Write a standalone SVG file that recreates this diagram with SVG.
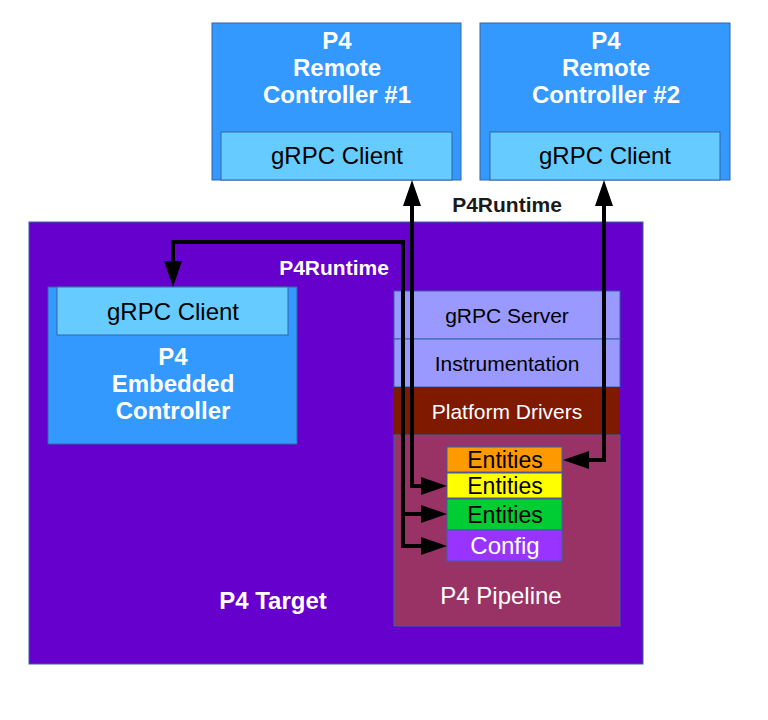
<svg xmlns="http://www.w3.org/2000/svg" width="768" height="720" viewBox="0 0 768 720">
<style>
.b{stroke:#3465a4;stroke-width:1}
.t{font-family:"Liberation Sans",Arial,sans-serif;text-anchor:middle}
.h{font-weight:bold;font-size:24px;fill:#fff}
.c{font-size:24px;fill:#000}
.e{font-size:23px;fill:#000}
.s{font-size:21px}
.ln{fill:none;stroke:#000;stroke-width:4;stroke-linejoin:miter}
</style>
<defs>
<marker id="ah" markerUnits="userSpaceOnUse" markerWidth="30" markerHeight="20" refX="20" refY="9" orient="auto-start-reverse" overflow="visible">
<path d="M0,0 L26,9 L0,18 z" fill="#000"/>
</marker>
</defs>
<rect width="768" height="720" fill="#fff"/>
<g id="target">
<rect class="b" x="29" y="222" width="614" height="442" fill="#6600cc"/>
<text class="t h" x="273" y="609">P4 Target</text>
</g>
<g id="remote1">
<rect class="b" x="212" y="23" width="249" height="157" fill="#3399ff"/>
<text class="t h" x="337" y="49">P4</text>
<text class="t h" x="337" y="76">Remote</text>
<text class="t h" x="337" y="103">Controller #1</text>
<rect class="b" x="221" y="132" width="231" height="48" fill="#66ccff"/>
<text class="t c" x="337" y="164">gRPC Client</text>
</g>
<g id="remote2">
<rect class="b" x="480" y="23" width="250" height="157" fill="#3399ff"/>
<text class="t h" x="606" y="49">P4</text>
<text class="t h" x="606" y="76">Remote</text>
<text class="t h" x="606" y="103">Controller #2</text>
<rect class="b" x="490" y="132" width="230" height="48" fill="#66ccff"/>
<text class="t c" x="605" y="164">gRPC Client</text>
</g>
<g id="embedded">
<rect class="b" x="48" y="287" width="249" height="157" fill="#3399ff"/>
<rect class="b" x="57" y="287" width="231" height="48" fill="#66ccff"/>
<text class="t c" x="173" y="320">gRPC Client</text>
<text class="t h" x="173" y="365">P4</text>
<text class="t h" x="173" y="392">Embedded</text>
<text class="t h" x="173" y="419">Controller</text>
</g>
<g id="pipeline">
<rect class="b" x="394" y="291" width="226" height="48" fill="#9999ff"/>
<text class="t s" x="507" y="323" fill="#000">gRPC Server</text>
<rect class="b" x="394" y="339" width="226" height="48" fill="#9999ff"/>
<text class="t s" x="507" y="371" fill="#000">Instrumentation</text>
<rect x="394" y="387" width="226" height="48" fill="#7f1900"/>
<text class="t s" x="507" y="419" fill="#fff">Platform Drivers</text>
<rect class="b" x="394" y="435" width="226" height="191" fill="#993366"/>
<text class="t" x="501" y="604" font-size="24" fill="#fff">P4 Pipeline</text>
</g>
<g id="entities1">
<rect class="b" x="447" y="447" width="115" height="25" fill="#ff9900"/>
<text class="t e" x="505" y="468">Entities</text>
</g>
<g id="entities2">
<rect class="b" x="447" y="473" width="115" height="25" fill="#ffff00"/>
<text class="t e" x="505" y="494">Entities</text>
</g>
<g id="entities3">
<rect class="b" x="447" y="499" width="115" height="31" fill="#00cc33"/>
<text class="t e" x="505" y="523">Entities</text>
</g>
<g id="config">
<rect class="b" x="447" y="530" width="115" height="31" fill="#9933ff"/>
<text class="t" x="505" y="554" font-size="24" fill="#fff">Config</text>
</g>
<g id="connectors">
<path class="ln" d="M173,281 L173,242 L403,242 L403,546 L441,546" marker-start="url(#ah)" marker-end="url(#ah)"/>
<path class="ln" d="M403,514 L441,514" marker-end="url(#ah)"/>
<path class="ln" d="M412,186 L412,486 L441,486" marker-start="url(#ah)" marker-end="url(#ah)"/>
<path class="ln" d="M604,186 L604,460 L569,460" marker-start="url(#ah)" marker-end="url(#ah)"/>
<text class="t" x="507" y="212" font-size="21" font-weight="bold" fill="#1a1a1a">P4Runtime</text>
<text class="t" x="334" y="275" font-size="21" font-weight="bold" fill="#fff">P4Runtime</text>
</g>
</svg>
